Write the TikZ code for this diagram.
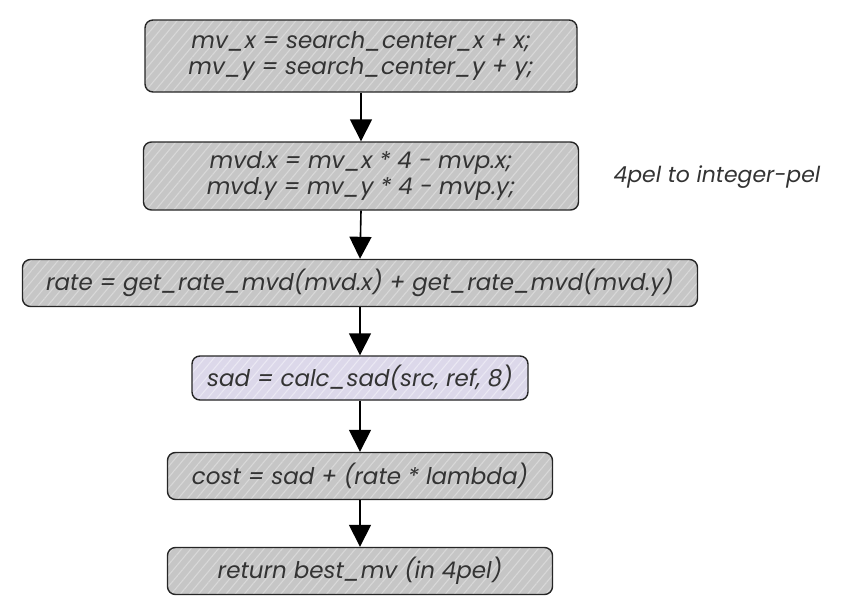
\documentclass[tikz,border=0pt]{standalone}
\usepackage{fontspec}
\setmainfont{Poppins}
\usetikzlibrary{arrows.meta,patterns.meta,positioning}
\definecolor{boxfill}{HTML}{C6C6C6}
\definecolor{hatch}{HTML}{D8D8D8}
\definecolor{lav}{HTML}{DCD8EA}
\definecolor{lavhatch}{HTML}{EAE8F3}
\tikzset{
  x=1pt,y=-1pt,
  stepbox/.style={draw=black!85,line width=1.4pt,rounded corners=8pt,
    preaction={fill=boxfill},pattern={Lines[angle=50,distance=7pt,line width=1.1pt]},pattern color=hatch,
    font=\fontsize{23}{26}\selectfont\itshape,text=black!80,align=center,inner sep=0pt},
  lavbox/.style={stepbox,preaction={fill=lav},pattern color=lavhatch},
  flow/.style={line width=1.6pt,-{Triangle[width=22pt,length=22pt]}}
}
\begin{document}
\begin{tikzpicture}
\useasboundingbox (0,0) rectangle (844,613);
\node[stepbox,minimum width=432pt,minimum height=72pt] (b1) at (361,56) {mv\_x = search\_center\_x + x;\\mv\_y = search\_center\_y + y;};
\node[stepbox,minimum width=435pt,minimum height=68pt] (b2) at (361,176) {mvd.x = mv\_x * 4 − mvp.x;\\mvd.y = mv\_y * 4 − mvp.y;};
\node[stepbox,minimum width=675pt,minimum height=47pt] (b3) at (360,283) {rate = get\_rate\_mvd(mvd.x) + get\_rate\_mvd(mvd.y)};
\node[lavbox,minimum width=336pt,minimum height=44pt] (b4) at (360,378) {sad = calc\_sad(src, ref, 8)};
\node[stepbox,minimum width=385pt,minimum height=47pt] (b5) at (360,476) {cost = sad + (rate * lambda)};
\node[stepbox,minimum width=385pt,minimum height=47pt] (b6) at (360,571) {return best\_mv (in 4pel)};
\node[font=\fontsize{22}{24}\selectfont\itshape,text=black!80,anchor=west] (lbl) at (610,177) {4pel to integer-pel};
\draw[flow] (b1.south) -- (b2.north);
\draw[flow] (b2.south) -- (b3.north);
\draw[flow] (b3.south) -- (b4.north);
\draw[flow] (b4.south) -- (b5.north);
\draw[flow] (b5.south) -- (b6.north);
\end{tikzpicture}
\end{document}
